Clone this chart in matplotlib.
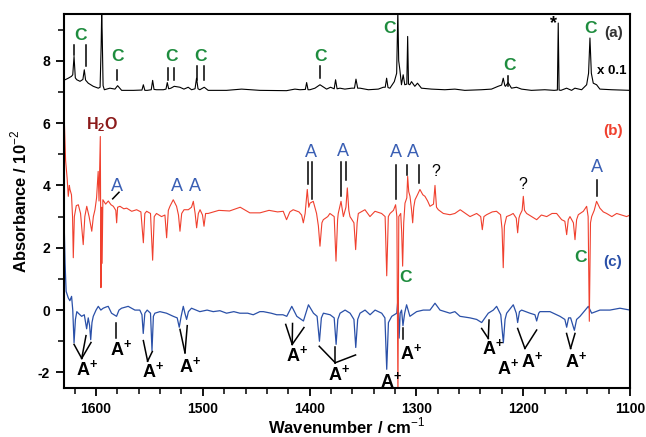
"""IR difference spectra (a)-(c) with band assignments."""

import matplotlib

matplotlib.use("Agg")
import matplotlib.pyplot as plt
import numpy as np

plt.rcParams["font.family"] = ["Liberation Sans", "DejaVu Sans"]
plt.rcParams["mathtext.fontset"] = "custom"
plt.rcParams["mathtext.rm"] = "Liberation Sans"
plt.rcParams["mathtext.bf"] = "Liberation Sans:bold"
plt.rcParams["axes.unicode_minus"] = False

# ------------------------------------------------------------
# Spectra, (wavenumber / cm-1, absorbance / 1e-2)
# ------------------------------------------------------------
TRACE_A = [  # (a) x 0.1, black
    (1630, 7.40), (1629, 7.39), (1626, 7.44), (1623, 7.50), (1621.8, 7.55),
    (1620.6, 8.14), (1619.4, 7.45), (1618, 7.39), (1615, 7.34), (1612.3, 7.40),
    (1611, 7.71), (1609.8, 7.38), (1607.3, 7.28), (1602.6, 7.18), (1597.9, 7.12),
    (1596.2, 7.15), (1595.2, 8.5), (1594.7, 9.6), (1594.2, 8.8), (1593.4, 7.2),
    (1592.2, 7.07), (1587, 7.12), (1582.3, 7.09), (1579.8, 7.20), (1576, 7.05),
    (1565, 7.05), (1557, 7.06), (1555.7, 7.23), (1554.3, 7.05), (1552, 7.05),
    (1548.3, 7.07), (1547, 7.37), (1545.7, 7.08), (1543.3, 7.07), (1537, 7.07),
    (1534.5, 7.09), (1533.3, 7.30), (1532, 7.10), (1529.9, 7.12), (1526.8, 7.18),
    (1521.5, 7.15), (1517.7, 7.09), (1513.7, 7.15), (1510.6, 7.07), (1507.3, 7.10),
    (1505.9, 7.44), (1504.5, 7.10), (1502.8, 7.07), (1498.7, 7.15), (1495, 7.05),
    (1477.8, 7.05), (1463.7, 7.09), (1446.6, 7.05), (1421.6, 7.04), (1413.8, 7.09),
    (1409, 7.07), (1404, 7.08), (1402.8, 7.30), (1401.5, 7.07), (1399.7, 7.07),
    (1395, 7.12), (1390.3, 7.23), (1384.1, 7.09), (1380.4, 7.15), (1377, 7.10),
    (1375.7, 7.39), (1374.3, 7.10), (1371.6, 7.12), (1367, 7.09), (1360.6, 7.12),
    (1358, 7.12), (1356.6, 7.41), (1355, 7.12), (1352.8, 7.12), (1345, 7.07),
    (1335.7, 7.09), (1331, 7.15), (1329.2, 7.15), (1327.9, 7.44), (1326.6, 7.14),
    (1324.8, 7.12), (1320.7, 7.33), (1318.5, 7.6), (1317.4, 9.6), (1316.6, 8.0),
    (1315.5, 7.71), (1314, 7.23), (1312.4, 7.55), (1310.9, 7.23), (1309, 7.25),
    (1308.2, 8.78), (1307.4, 7.25), (1306.2, 7.23), (1304.6, 7.33), (1301.5, 7.18),
    (1299, 7.28), (1295.3, 7.12), (1285.9, 7.09), (1273.4, 7.07), (1264, 7.09),
    (1254.7, 7.05), (1239.1, 7.07), (1229.7, 7.09), (1223.5, 7.18), (1220.2, 7.22),
    (1218.7, 7.44), (1217.2, 7.2), (1216.6, 7.18), (1214.1, 7.30), (1211, 7.12),
    (1206.3, 7.15), (1201.6, 7.09), (1192.3, 7.05), (1179.8, 7.07), (1171, 7.05),
    (1168.0, 7.06), (1167.2, 9.21), (1166.4, 7.06), (1164.7, 7.05), (1159.4, 7.12),
    (1154.7, 7.05), (1151.6, 7.12), (1145.3, 7.07), (1140.6, 7.23), (1138.8, 7.6),
    (1137.5, 8.73), (1136.2, 7.6), (1134.4, 7.28), (1131.3, 7.23), (1128.2, 7.09),
    (1117.2, 7.07), (1100, 7.05),
]

TRACE_B = [  # (b), red
    (1630, 6.4), (1628.5, 4.8), (1627, 4.2), (1626, 3.65), (1625, 4.0),
    (1624.4, 3.87), (1623, 3.7), (1622, 3.0), (1621.3, 1.68), (1620.3, 3.0),
    (1618.5, 3.35), (1616.6, 3.38), (1614.5, 3.1), (1612, 2.1), (1610.5, 3.0),
    (1608.7, 3.33), (1606.5, 3.0), (1604, 2.53), (1602.5, 3.0), (1601, 3.22),
    (1599.5, 3.6), (1598.0, 4.45), (1597.2, 3.5), (1596.0, 5.57), (1595.4, 0.72),
    (1594.8, 3.3), (1594.3, 1.5), (1593.6, 3.54), (1591, 3.4), (1588.5, 3.5),
    (1586, 3.38), (1583.8, 3.33), (1581.5, 3.2), (1580.7, 2.8), (1579.8, 3.3),
    (1577.6, 3.33), (1574, 3.25), (1571.3, 3.27), (1566.6, 3.17), (1562, 3.22),
    (1558, 3.15), (1555.7, 2.16), (1554.3, 3.1), (1552.6, 3.17), (1549, 3.1),
    (1547, 1.6), (1545.5, 3.0), (1543.4, 3.1), (1538.7, 3.0), (1535.5, 3.05),
    (1533.9, 2.32), (1532.3, 3.2), (1530.8, 3.33), (1527.7, 3.54), (1524.6, 3.33),
    (1522.8, 3.05), (1521.4, 2.53), (1519.8, 3.1), (1517.6, 3.22), (1513.6, 3.22),
    (1510.6, 3.3), (1508.9, 3.49), (1507.2, 3.1), (1505.8, 2.64), (1504.2, 3.1),
    (1502.6, 3.22), (1500.3, 3.05), (1498.9, 2.69), (1497.4, 3.1), (1495, 3.1),
    (1485, 3.2), (1475, 3.18), (1465, 3.3), (1456, 3.12), (1446.5, 3.12),
    (1438, 3.2), (1430, 3.15), (1424.7, 3.17), (1421.6, 2.9), (1418.5, 3.15),
    (1415.4, 3.22), (1410, 3.15), (1407.5, 3.05), (1405.9, 2.8), (1404.2, 3.1),
    (1402.2, 3.87), (1400.8, 3.3), (1399.7, 3.43), (1396.6, 3.49), (1393.5, 3.1),
    (1391.8, 2.7), (1390.3, 2.05), (1388.5, 2.8), (1387.2, 2.9), (1383, 3.0),
    (1381, 3.1), (1377, 3.0), (1375.3, 1.57), (1373.8, 2.9), (1373.2, 3.1),
    (1370.6, 3.49), (1368.4, 3.0), (1366, 3.3), (1364.7, 3.92), (1363.3, 3.2),
    (1362.2, 3.0), (1358.5, 2.8), (1356.9, 1.94), (1355.5, 2.8), (1354.4, 3.1),
    (1348.2, 3.22), (1343.5, 3.0), (1338.8, 3.17), (1332.6, 3.1), (1329.3, 3.0),
    (1327.8, 1.1), (1326.3, 3.0), (1324.7, 3.1), (1321.5, 3.2), (1319.5, 3.38),
    (1318.3, 3.0), (1317.3, -2.8), (1316.5, 3.0), (1314.7, 3.1), (1313.8, 2.5),
    (1312.9, 1.41), (1311.9, 2.8), (1310.7, 3.43), (1309, 3.6), (1308.2, 4.29),
    (1307.2, 3.8), (1306, 3.65), (1304.5, 3.2), (1303.5, 2.8), (1302.5, 3.3),
    (1301.3, 3.54), (1299, 3.7), (1296.7, 3.87), (1294, 3.7), (1292, 3.65),
    (1289.5, 3.5), (1287.3, 3.33), (1284, 3.4), (1282.6, 4.0), (1281.2, 3.3),
    (1279.5, 3.22), (1274.8, 3.1), (1268.6, 3.06), (1264, 3.1), (1259, 3.22),
    (1254, 3.1), (1249.8, 3.0), (1243.6, 3.1), (1239.8, 3.0), (1238.3, 2.58),
    (1236.8, 3.0), (1234.3, 3.06), (1229, 3.15), (1225, 3.17), (1221.2, 3.06),
    (1219.8, 2.6), (1218.7, 1.36), (1217.6, 2.7), (1215.6, 3.0), (1212, 3.05),
    (1209.4, 3.1), (1206.5, 2.95), (1205.2, 2.48), (1204, 2.95), (1203, 3.06),
    (1201, 3.2), (1199.9, 3.65), (1198.8, 3.2), (1196.8, 3.1), (1192, 3.0),
    (1187.4, 2.9), (1183, 3.05), (1178, 3.0), (1173, 3.1), (1168.7, 3.1),
    (1164, 2.9), (1161, 2.85), (1159.3, 2.42), (1157.8, 2.9), (1156.2, 3.0),
    (1153, 2.8), (1151.5, 2.26), (1150, 2.9), (1148.4, 3.06), (1143.7, 3.17),
    (1140.6, 3.33), (1139.2, 3.0), (1138.1, -0.36), (1137, 2.8), (1135.9, 3.0),
    (1133.5, 3.2), (1131.3, 3.49), (1128.2, 3.27), (1125, 3.15), (1121.9, 3.1),
    (1117, 3.0), (1112.5, 3.1), (1108, 3.05), (1103.2, 3.0), (1100, 3.05),
]

TRACE_C = [  # (c), blue
    (1630, 3.0), (1629, 1.5), (1628, 0.6), (1626, 0.39), (1624.5, 0.3),
    (1622.9, 0.44), (1621.8, 0.0), (1620.6, -1.05), (1619.3, -0.3), (1618, -0.05),
    (1616.6, -0.1), (1613.5, -0.2), (1611, -0.15), (1608.8, -0.6), (1607.3, -0.25),
    (1606, -0.5), (1605, -0.95), (1603.8, -0.4), (1602.6, -0.2), (1600, 0.0),
    (1597.9, 0.12), (1595.5, 0.0), (1593.3, 0.06), (1590.5, 0.1), (1588.6, 0.12),
    (1585.5, -0.1), (1580.8, -0.2), (1578.5, 0.0), (1576.1, 0.06), (1569.9, 0.12),
    (1563.6, 0.0), (1559, 0.0), (1557, -0.15), (1555.8, -0.75), (1554.3, -0.1),
    (1552.1, 0.0), (1549, -0.1), (1547.6, -1.3), (1546.3, -0.2), (1544.9, -0.1),
    (1540.2, -0.05), (1534, -0.1), (1527.7, -0.2), (1524, -0.25), (1522.1, -0.55),
    (1520.3, -0.2), (1518.3, 0.12), (1516.8, -0.1), (1515.2, -0.3), (1513.5, -0.05),
    (1510.6, 0.06), (1502.8, -0.05), (1496, 0.0), (1490.3, -0.05), (1484, -0.02),
    (1477.8, -0.1), (1471, -0.05), (1465.3, -0.1), (1458, -0.1), (1452.8, -0.15),
    (1446.6, -0.05), (1443.3, -0.05), (1436, -0.1), (1430.8, -0.15), (1425, -0.15),
    (1421.4, -0.2), (1416.7, 0.12), (1412, -0.2), (1405.8, -0.35), (1401.1, 0.17),
    (1396.4, -0.1), (1393, -0.2), (1390.8, -1.0), (1389, -0.25), (1387.1, -0.1),
    (1380.8, -0.15), (1377, -0.25), (1375.2, -1.1), (1373.6, -0.3), (1371.5, -0.1),
    (1366.8, 0.0), (1362.1, -0.1), (1358.5, -0.3), (1356.8, -1.2), (1355, -0.3),
    (1352.8, -0.1), (1348.1, 0.0), (1343.4, -0.15), (1338.7, 0.0), (1332.5, -0.1),
    (1329.5, -0.25), (1327.8, -1.9), (1326.2, -0.4), (1323.1, -0.2), (1318.4, -0.1),
    (1317.2, 0.4), (1316.2, -0.9), (1315.2, -0.1), (1313.9, 0.0), (1312.6, -0.5),
    (1311, -0.1), (1309.2, 0.17), (1306.1, -0.2), (1299.8, -0.05), (1293.6, 0.0),
    (1287.3, 0.0), (1282.6, 0.22), (1277.9, 0.0), (1268.6, -0.1), (1264, -0.05),
    (1259.2, -0.2), (1249.8, -0.25), (1243.6, -0.3), (1238.9, -0.4), (1232.7, -0.1),
    (1228, 0.0), (1224.9, 0.12), (1221, -0.15), (1218.6, -1.05), (1217, -0.3),
    (1215.5, -0.1), (1209.3, 0.17), (1206.5, -0.1), (1205.2, -0.4), (1203.5, -0.05),
    (1201.5, 0.0), (1193.7, -0.1), (1189, -0.15), (1187.4, -0.35), (1185.5, -0.1),
    (1184.3, -0.05), (1174.9, -0.05), (1165.6, -0.2), (1161, -0.3), (1159.3, -0.55),
    (1157.5, -0.25), (1155.6, -0.25), (1152.1, -0.65), (1150, -0.3), (1146.8, -0.2),
    (1139, 0.12), (1135.9, -0.1), (1128.2, 0.0), (1118.8, 0.0), (1109.4, 0.06),
    (1100, 0.0),
]

# ------------------------------------------------------------
# Assignments
# ------------------------------------------------------------
# green "C" labels (wavenumber, y)
C_LABELS = [(1614.5, 8.8), (1580, 8.14), (1529.8, 8.14), (1502, 8.14),
            (1389.4, 8.14), (1324.8, 9.05), (1213, 7.84), (1136.6, 9.05),
            (1310, 1.04), (1146, 1.68)]
# blue "A" labels
A_LABELS = [(1580.7, 3.95), (1524.5, 3.95), (1507.5, 3.95), (1399, 5.05),
            (1368.5, 5.08), (1319, 5.05), (1303, 5.05), (1131, 4.57)]
# vertical marker ticks (wavenumber, y_low, y_high)
MARK_TICKS = [
    (1620.6, 8.19, 8.51), (1609.7, 7.82, 8.51), (1580, 7.37, 7.71),
    (1532.6, 7.37, 7.76), (1527, 7.37, 7.76), (1505, 7.37, 7.84),
    (1498.6, 7.37, 7.84), (1390.3, 7.45, 7.82), (1214, 7.2, 7.5),
    (1401.5, 4.03, 4.76), (1397.5, 3.55, 4.76), (1371, 3.65, 4.76),
    (1366, 4.18, 4.76), (1319.3, 3.55, 4.67), (1308.6, 4.35, 4.67),
    (1298, 4.09, 4.67), (1131, 3.65, 4.18),
    (1581, -0.88, -0.4), (1312.9, -0.93, -0.56),
]
SLANT_TICKS = [((1584.4, 3.57), (1578.5, 3.78))]
# A+ labels: (label wn, label y, apex or None, list of band ends)
APLUS = [
    (1612.5, -1.9, (1613.4, -1.55), [(1620.6, -1.1), (1609.4, -0.82), (1604.7, -1.04)]),
    (1580.7, -1.26, None, []),
    (1551, -1.96, (1551.7, -1.64), [(1555.7, -0.98), (1547.3, -1.33)]),
    (1516, -1.8, (1516.7, -1.37), [(1521.4, -0.62), (1514.6, -0.5)]),
    (1416, -1.44, (1416.3, -1.1), [(1422.4, -0.46), (1416, -0.43), (1405.3, -0.56)]),
    (1376, -2.06, (1376, -1.69), [(1391, -1.16), (1376, -1.18), (1357, -1.44)]),
    (1328, -2.28, None, []),
    (1309, -1.37, None, []),
    (1232, -1.23, (1232.7, -0.91), [(1238.9, -0.59), (1232, -0.32)]),
    (1217.7, -1.85, None, []),
    (1196, -1.64, (1198.4, -1.23), [(1205.2, -0.59), (1187.4, -0.64)]),
    (1154.6, -1.64, (1155.6, -1.23), [(1159.4, -0.75), (1151.5, -0.75)]),
]
QUESTION = [(1281.7, 4.45), (1200.5, 4.03)]
STAR = (1171.8, 9.2)

BLACK, RED, BLUE = "black", "#f0402e", "#2a50a8"
GREEN, BLUE_TXT, DARKRED = "#1e8c3e", "#3a5fb4", "#8b1a1a"


def unzip(trace):
    arr = np.array(trace)
    return arr[:, 0], arr[:, 1]


def main() -> None:
    fig = plt.figure(figsize=(6.46, 4.37), dpi=100)
    ax = fig.add_axes([64 / 646, 1 - 388 / 437, 566 / 646, 374 / 437])

    for trace, color, lw in ((TRACE_A, BLACK, 0.8), (TRACE_C, BLUE, 0.9), (TRACE_B, RED, 0.8)):
        x, y = unzip(trace)
        ax.plot(x, y, color=color, lw=lw)

    # marker ticks
    for wn, y0, y1 in MARK_TICKS:
        ax.plot([wn, wn], [y0, y1], color="black", lw=1.1)
    for (x0, y0), (x1, y1) in SLANT_TICKS:
        ax.plot([x0, x1], [y0, y1], color="black", lw=1.1)

    for wn, y in C_LABELS:
        ax.text(wn, y, "C", color=GREEN, fontsize=12.5, fontweight="bold",
                ha="center", va="center")
    for wn, y in A_LABELS:
        ax.text(wn, y, "A", color=BLUE_TXT, fontsize=13, ha="center", va="center")
    for wn, y in QUESTION:
        ax.text(wn, y, "?", color="black", fontsize=11.5, ha="center", va="center")
    ax.text(*STAR, "*", color="black", fontsize=13, fontweight="bold",
            ha="center", va="center")

    for wn, y, apex, ends in APLUS:
        for ex, ey in ends:
            ax.plot([apex[0], ex], [apex[1], ey], color="black", lw=1.1)
        ax.annotate(r"A$^{\mathbf{+}}$", xy=(wn, y), xytext=(3, 0),
                    textcoords="offset points", fontsize=13, fontweight="bold",
                    ha="center", va="center")

    ax.text(1594.4, 5.95, r"H$_{\mathbf{2}}$O", color=DARKRED, fontsize=11.5,
            fontweight="bold", ha="center", va="center")
    ax.text(1115.7, 8.89, "(a)", color="#333333", fontsize=11, fontweight="bold",
            ha="center", va="center")
    ax.text(1117.2, 7.66, "x 0.1", color="black", fontsize=9.5, fontweight="bold",
            ha="center", va="center")
    ax.text(1116, 5.73, "(b)", color=RED, fontsize=11, fontweight="bold",
            ha="center", va="center")
    ax.text(1116, 1.55, "(c)", color=BLUE, fontsize=11, fontweight="bold",
            ha="center", va="center")

    ax.set_xlim(1630, 1100)
    ax.set_ylim(-2.5, 9.5)
    ax.set_xticks(np.arange(1600, 1099, -100))
    ax.set_xticks(np.arange(1620, 1099, -20), minor=True)
    ax.set_yticks(np.arange(-2, 9, 2))
    ax.set_yticks(np.arange(-1, 10, 2), minor=True)
    ax.tick_params(which="major", direction="out", length=6, width=1.3,
                   labelsize=10, pad=4)
    ax.tick_params(which="minor", direction="out", length=4, width=1.1)
    for lab in ax.get_xticklabels() + ax.get_yticklabels():
        lab.set_fontweight("bold")
    for sp in ax.spines.values():
        sp.set_linewidth(1.5)

    ax.set_xlabel(r"Wavenumber / cm$^{-1}$", fontsize=12, fontweight="bold", labelpad=0)
    ax.set_ylabel(r"Absorbance / 10$^{-2}$", fontsize=12, fontweight="bold", labelpad=6)

    fig.savefig("out.png", dpi=100)
    plt.close(fig)


if __name__ == "__main__":
    main()
